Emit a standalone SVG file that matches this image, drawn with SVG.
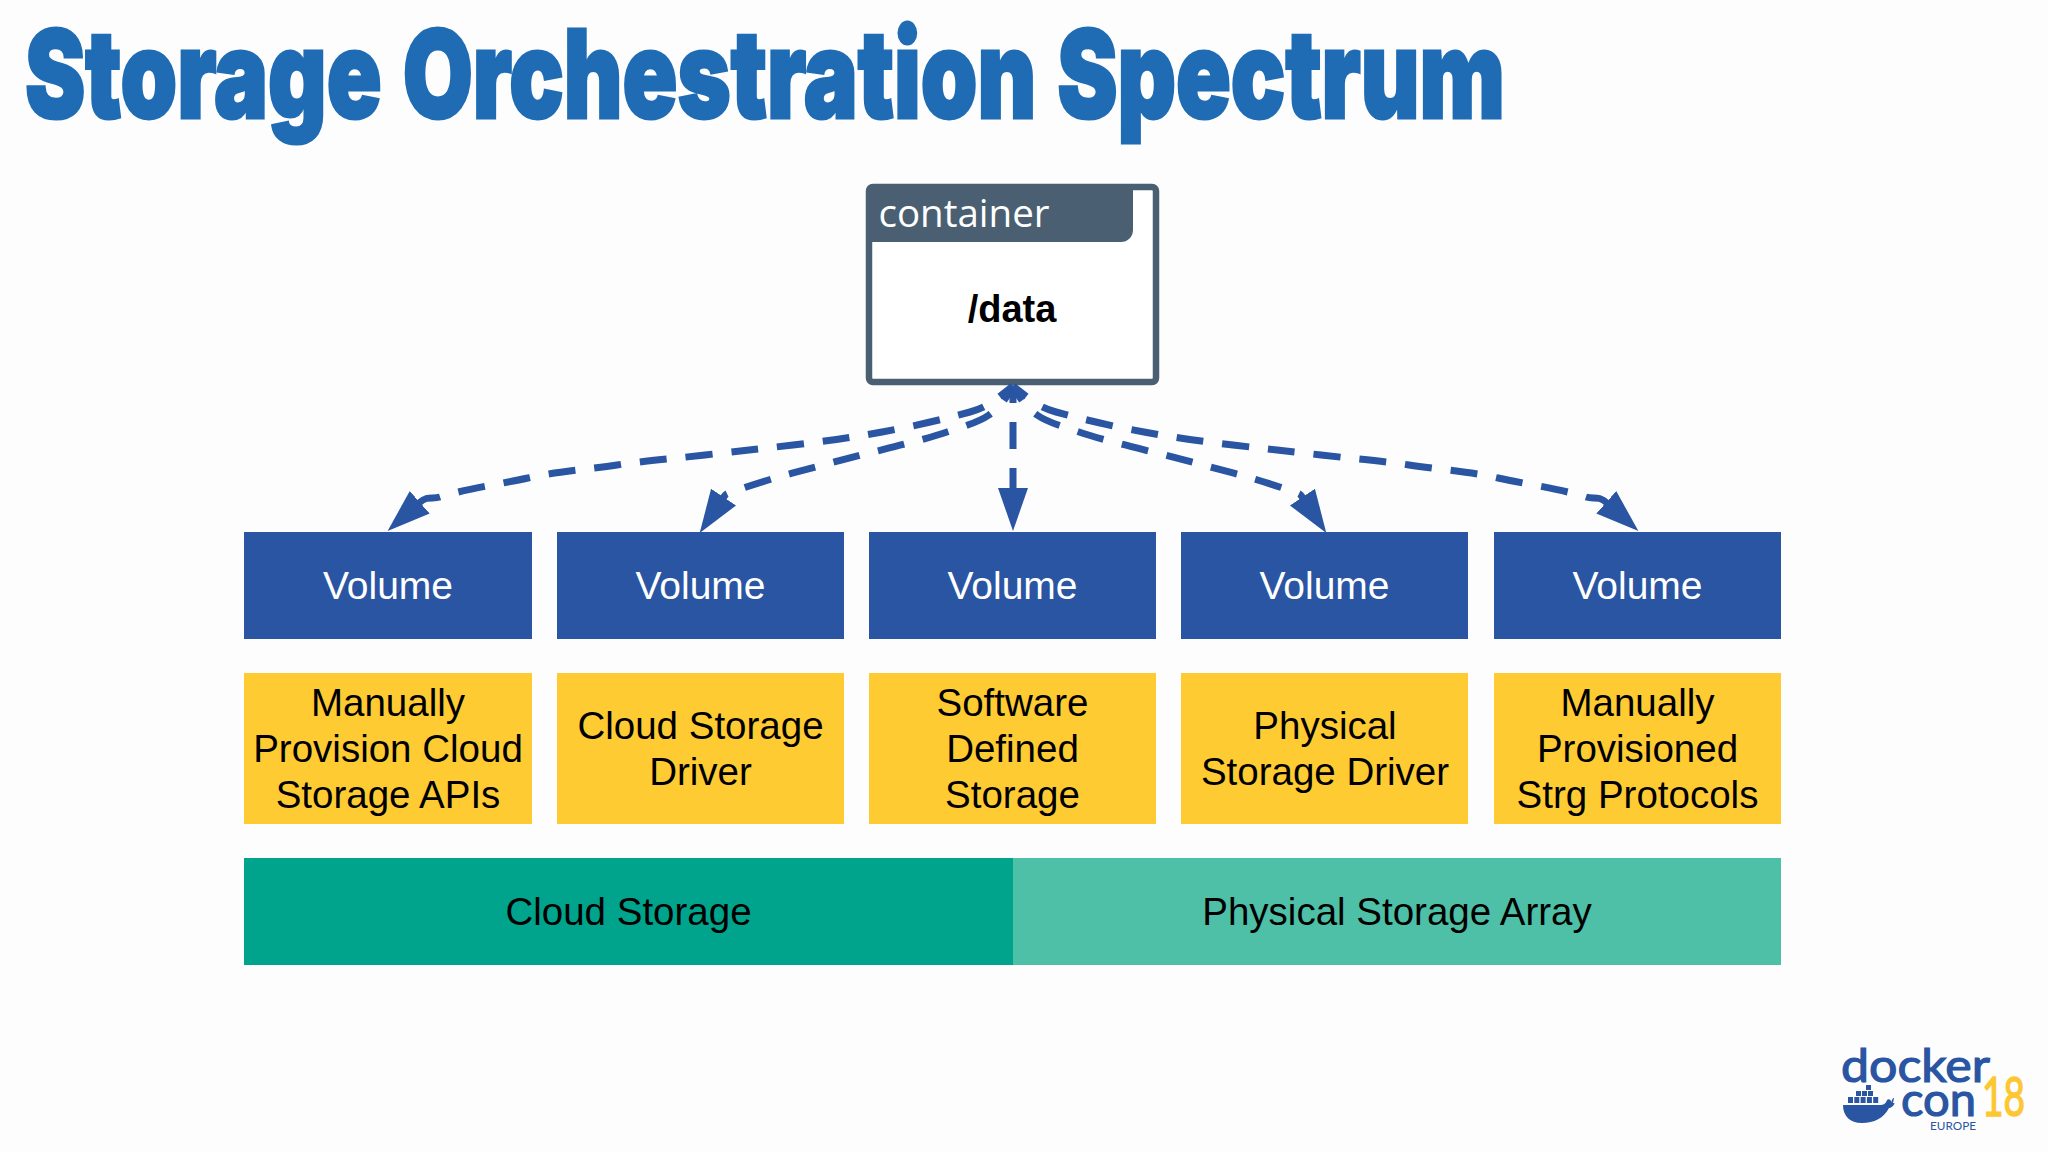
<svg xmlns="http://www.w3.org/2000/svg" width="2048" height="1152" viewBox="0 0 2048 1152">
<style>
text{font-family:"Liberation Sans",Arial,sans-serif;text-anchor:middle}
.l{font-size:38.500px;fill:#000}
.v{font-size:39px;fill:#fff}
.blue{fill:#2a55a2}
.yel{fill:#fecb33}
.con{fill:none;stroke:#2a55a2;stroke-width:7;stroke-dasharray:27 19;stroke-dashoffset:10}
.lg{font-family:"Lato","Open Sans",sans-serif;text-anchor:start}
</style>
<defs>
<marker id="head" markerUnits="userSpaceOnUse" markerWidth="46" markerHeight="32" refX="1" refY="16" orient="auto">
<path d="M0 1L43 16L0 31Z" fill="#2a55a2"/>
</marker>
</defs>
<rect width="2048" height="1152" fill="#fdfdfe"/>
<text id="title" x="25" y="118" textLength="1480" lengthAdjust="spacingAndGlyphs" style="font-family:Inter,'Liberation Sans',sans-serif;text-anchor:start;font-weight:900;font-size:122px;word-spacing:4px;fill:#1f6cb5;stroke:#1f6cb5;stroke-width:3">Storage Orchestration Spectrum</text>
<g id="container">
<rect x="869" y="187" width="287" height="195" rx="4" fill="#fff" stroke="#4a6072" stroke-width="6.5"/>
<path d="M866 192a8 8 0 0 1 8-8H1133V230a12 12 0 0 1-12 12H866Z" fill="#4a6072"/>
<text x="964" y="227" style="font-family:'Open Sans',sans-serif;font-size:38.500px;fill:#fff">container</text>
<text x="1012" y="322" style="font-weight:700;font-size:38px;fill:#000">/data</text>
</g>
<g id="connectors">
<path class="con" marker-end="url(#head)" d="M1013 386C1004 393 996.200 399.700 989 404C983 407.600 978 409.900 970 412C945 419 910 427 882 432C852 437.500 823 441.500 793 445C763 448.500 735 451.500 705 455C675 458.500 646 460.500 617 465C587 469.500 557 471.500 528 478C498 484.500 465 489 440 497C432 499.500 428 495 419 503"/>
<path class="con" marker-end="url(#head)" d="M1013 386C1005 400 1000 407.300 989 415C978 422.700 961 427.200 947 432C933 436.800 919.300 440.200 905 444C890.700 447.800 875.300 451.300 861 455C846.700 458.700 833.300 462.200 819 466C804.700 469.800 789.500 473.700 775 478C760.500 482.300 740.700 488.700 732 492C727 494 727 492 723 498"/>
<path class="con" marker-end="url(#head)" d="M1013 386V489"/>
<path class="con" marker-end="url(#head)" d="M1013 386C1021 400 1026 407.300 1037 415C1048 422.700 1065 427.200 1079 432C1093 436.800 1106.700 440.200 1121 444C1135.300 447.800 1150.700 451.300 1165 455C1179.300 458.700 1192.700 462.200 1207 466C1221.300 469.800 1236.500 473.700 1251 478C1265.500 482.300 1285.300 488.700 1294 492C1299 494 1299 492 1303 498"/>
<path class="con" marker-end="url(#head)" d="M1013 386C1022 393 1029.800 399.700 1037 404C1043 407.600 1048 409.900 1056 412C1081 419 1116 427 1144 432C1174 437.500 1203 441.500 1233 445C1263 448.500 1291 451.500 1321 455C1351 458.500 1380 460.500 1409 465C1439 469.500 1469 471.500 1498 478C1528 484.500 1561 489 1586 497C1594 499.500 1598 495 1607 503"/>
</g>
<g id="volume1"><rect class="blue" x="244" y="532" width="288" height="107"/><text class="v" x="388" y="599">Volume</text></g>
<g id="volume2"><rect class="blue" x="557" y="532" width="287" height="107"/><text class="v" x="700.500" y="599">Volume</text></g>
<g id="volume3"><rect class="blue" x="869" y="532" width="287" height="107"/><text class="v" x="1012.500" y="599">Volume</text></g>
<g id="volume4"><rect class="blue" x="1181" y="532" width="287" height="107"/><text class="v" x="1324.500" y="599">Volume</text></g>
<g id="volume5"><rect class="blue" x="1494" y="532" width="287" height="107"/><text class="v" x="1637.500" y="599">Volume</text></g>
<g id="driver1"><rect class="yel" x="244" y="673" width="288" height="151"/><text class="l" x="388" y="716">Manually</text><text class="l" x="388" y="762">Provision Cloud</text><text class="l" x="388" y="808">Storage APIs</text></g>
<g id="driver2"><rect class="yel" x="557" y="673" width="287" height="151"/><text class="l" x="700.500" y="739">Cloud Storage</text><text class="l" x="700.500" y="785">Driver</text></g>
<g id="driver3"><rect class="yel" x="869" y="673" width="287" height="151"/><text class="l" x="1012.500" y="716">Software</text><text class="l" x="1012.500" y="762">Defined</text><text class="l" x="1012.500" y="808">Storage</text></g>
<g id="driver4"><rect class="yel" x="1181" y="673" width="287" height="151"/><text class="l" x="1325" y="739">Physical</text><text class="l" x="1325" y="785">Storage Driver</text></g>
<g id="driver5"><rect class="yel" x="1494" y="673" width="287" height="151"/><text class="l" x="1637.500" y="716">Manually</text><text class="l" x="1637.500" y="762">Provisioned</text><text class="l" x="1637.500" y="808">Strg Protocols</text></g>
<g id="cloud-storage"><rect x="244" y="858" width="769" height="107" fill="#00a38c"/><text class="l" x="628.500" y="925">Cloud Storage</text></g>
<g id="physical-array"><rect x="1013" y="858" width="768" height="107" fill="#4dc0a7"/><text class="l" x="1397" y="925">Physical Storage Array</text></g>
<g id="logo">
<text class="lg" x="1841" y="1082" textLength="149" lengthAdjust="spacingAndGlyphs" style="font-size:46px;fill:#2a55a2;stroke:#2a55a2;stroke-width:1.200">docker</text>
<text class="lg" x="1901" y="1116" textLength="75" lengthAdjust="spacingAndGlyphs" style="font-size:46px;fill:#2a55a2;stroke:#2a55a2;stroke-width:1.200">con</text>
<text class="lg" x="1982" y="1116" textLength="43" lengthAdjust="spacingAndGlyphs" style="font-size:54px;fill:#fcc733;stroke:#fcc733;stroke-width:1.500">18</text>
<text class="lg" x="1930" y="1130" textLength="46" lengthAdjust="spacingAndGlyphs" style="font-size:12px;fill:#2a55a2">EUROPE</text>
<g class="blue">
<path d="M1843 1105H1880C1883 1105 1886 1104 1887 1100C1889 1098 1891 1100 1892 1103C1891 1100 1893 1098 1894 1098L1893 1103C1897 1102 1892 1108 1889 1108C1884 1118 1874 1123 1862 1123C1850 1123 1843 1116 1843 1105Z"/>
<rect x="1848" y="1097" width="5" height="6"/><rect x="1854.300" y="1097" width="5" height="6"/><rect x="1860.600" y="1097" width="5" height="6"/><rect x="1866.900" y="1097" width="5" height="6"/><rect x="1873.200" y="1097" width="5" height="6"/>
<rect x="1856" y="1091" width="5" height="5"/><rect x="1862" y="1091" width="5" height="5"/><rect x="1868" y="1091" width="5" height="5"/>
<rect x="1866" y="1085" width="5" height="5"/>
</g>
</g>
</svg>
